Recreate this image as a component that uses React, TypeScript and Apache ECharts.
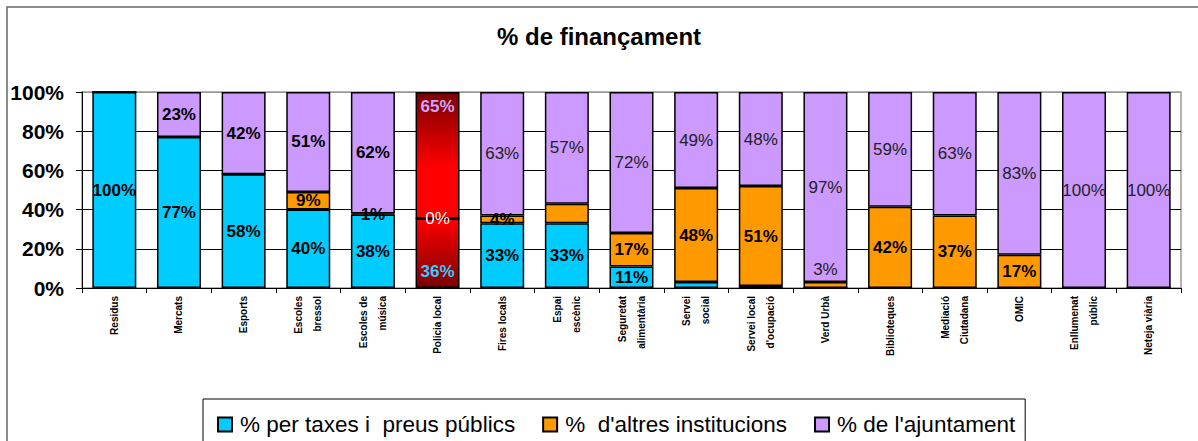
import React, { useEffect, useRef } from "react";
import * as echarts from "echarts";

const categories = [
  "Residus",
  "Mercats",
  "Esports",
  "Escoles\nbressol",
  "Escoles de\nmúsica",
  "Policia local",
  "Fires locals",
  "Espai\nescènic",
  "Seguretat\nalimentària",
  "Servei\nsocial",
  "Servei local\nd'ocupació",
  "Verd Urbà",
  "Biblioteques",
  "Mediació\nCiutadana",
  "OMIC",
  "Enllumenat\npúblic",
  "Neteja viària",
];

const seriesNames = [
  "% per taxes i  preus públics",
  "%  d'altres institucions",
  "% de l'ajuntament",
];

// percentages (rounded for labels)
const taxes = [100, 77, 58, 40, 37.5, 35.5, 33, 33, 11, 3, 1, 0, 0, 0, 0, 0, 0];
const altres = [0, 0, 0, 9, 0.5, 0, 4, 10, 17, 48, 51, 3, 41.5, 37, 17, 0, 0];
const ajuntament = [0, 23, 42, 51, 62, 64.5, 63, 57, 72, 49, 48, 97, 58.5, 63, 83, 100, 100];

const yTicks = [0, 20, 40, 60, 80, 100];

const colors = ["#00ccff", "#ff9900", "#cc99ff"];
const highlightIndex = 5; // Policia local drawn in red gradient

export default function App() {
  const ref = useRef<HTMLDivElement>(null);

  useEffect(() => {
    if (!ref.current) return;
    const chart = echarts.init(ref.current, null, { renderer: "svg" });
    const font = "'Liberation Sans', Arial, sans-serif";

    const makeData = (vals: number[], sIdx: number) =>
      vals.map((v, i) => {
        let show = v > 0;
        if (sIdx === 0 && (i === 9 || i === 10)) show = false;
        if (sIdx === 1 && i === 7) show = false;
        if (sIdx === 1 && i === highlightIndex) show = true;
        let bold = true;
        if (sIdx === 2 && i > highlightIndex) bold = false;
        if (sIdx === 1 && i === 11) bold = false;
        const item: any = {
          value: v,
          label: {
            show,
            fontWeight: bold ? "bold" : "normal",
            color: bold ? "#000" : "#222",
          },
        };
        if (sIdx === 1 && i === 11) {
          item.label.position = "top";
          item.label.distance = 4;
        }
        if (i === highlightIndex) {
          if (sIdx === 0) {
            item.itemStyle = {
              color: new echarts.graphic.LinearGradient(0, 0, 0, 1, [
                { offset: 0, color: "#ff0000" },
                { offset: 1, color: "#7a0000" },
              ]),
            };
            item.label.color = "#33ccff";
            item.label.position = "insideBottom";
            item.label.distance = 8;
          } else if (sIdx === 2) {
            item.itemStyle = {
              color: new echarts.graphic.LinearGradient(0, 0, 0, 1, [
                { offset: 0, color: "#7a0000" },
                { offset: 0.6, color: "#ff0000" },
                { offset: 1, color: "#ff0000" },
              ]),
            };
            item.label.color = "#c8a8ff";
            item.label.position = "insideTop";
            item.label.distance = 6;
          } else {
            item.label.color = "#ffffff";
            item.label.fontWeight = "normal";
          }
        }
        return item;
      });

    const allVals = [taxes, altres, ajuntament];

    chart.setOption({
      animation: false,
      backgroundColor: "#ffffff",
      textStyle: { fontFamily: font },
      title: {
        text: "% de finançament",
        left: 497,
        top: 24,
        padding: 0,
        textStyle: { fontSize: 24, fontWeight: "bold", color: "#000", fontFamily: font },
      },
      graphic: [
        {
          type: "rect",
          shape: { x: 7, y: 7, width: 1200, height: 500 },
          style: { fill: "none", stroke: "#666", lineWidth: 1.5 },
          silent: true,
          z: -10,
        },
      ],
      legend: {
        left: 203,
        top: 399,
        padding: [14, 10, 20, 14],
        itemGap: 27,
        itemWidth: 14,
        itemHeight: 14,
        icon: "rect",
        borderColor: "#000",
        borderWidth: 1,
        data: seriesNames,
        textStyle: { fontSize: 22.5, color: "#000", fontFamily: font, padding: [0, 0, 0, 3] },
      },
      grid: {
        left: 82,
        right: 17,
        top: 92,
        height: 196,
        show: true,
        borderColor: "#999",
        borderWidth: 1.5,
        backgroundColor: "transparent",
      },
      xAxis: {
        type: "category",
        data: categories,
        axisLine: { show: true, lineStyle: { color: "#000", width: 1 } },
        axisTick: { show: true, length: 5, alignWithLabel: false, lineStyle: { color: "#000" } },
        axisLabel: {
          rotate: 90,
          interval: 0,
          fontSize: 10,
          fontWeight: "bold",
          lineHeight: 19,
          margin: 8,
          color: "#000",
          fontFamily: font,
        },
      },
      yAxis: {
        type: "value",
        min: yTicks[0],
        max: yTicks[yTicks.length - 1],
        interval: 20,
        axisLine: { show: true, lineStyle: { color: "#000", width: 1 } },
        axisTick: { show: true, length: 6, lineStyle: { color: "#000" } },
        axisLabel: {
          formatter: "{value}%",
          fontSize: 21,
          fontWeight: "bold",
          color: "#000",
          margin: 18,
          fontFamily: font,
        },
        splitLine: {
          show: true,
          lineStyle: { color: ["#000", "#000", "#000", "#000", "#000", "#999"], width: 1 },
        },
      },
      series: seriesNames.map((name, sIdx) => ({
        name,
        type: "bar",
        stack: "total",
        barWidth: 44,
        itemStyle: { color: colors[sIdx], borderColor: "#000", borderWidth: 1.5 },
        label: {
          show: true,
          position: "inside",
          fontSize: 17,
          fontFamily: font,
          formatter: (p: any) => Math.round(p.value) + "%",
        },
        data: makeData(allVals[sIdx], sIdx),
      })),
    });

    return () => chart.dispose();
  }, []);

  return (
    <div
      ref={ref}
      style={{ position: "fixed", left: 0, top: 0, width: 1198, height: 441 }}
    />
  );
}
